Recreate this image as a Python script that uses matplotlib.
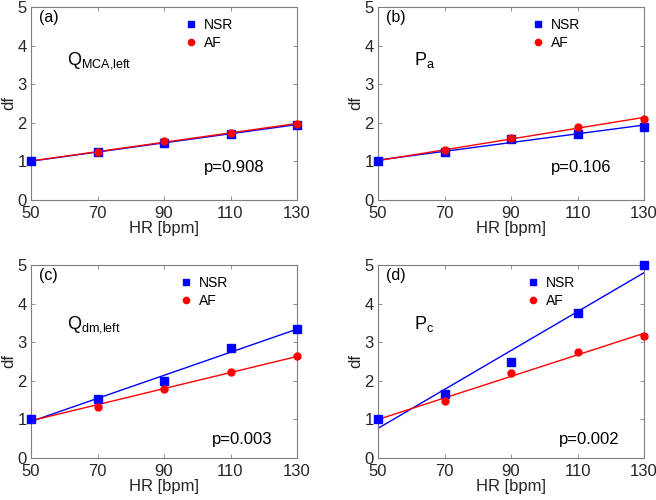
import numpy as np
import matplotlib
matplotlib.use("Agg")
import matplotlib.pyplot as plt

plt.rcParams['font.family'] = ['Liberation Sans', 'DejaVu Sans']

hr = [50, 70, 90, 110, 130]
panel_tags = ['(a)', '(b)', '(c)', '(d)']
panel_names = [r'Q$_{\mathregular{MCA{,}left}}$', r'P$_{\mathregular{a}}$',
               r'Q$_{\mathregular{dm{,}left}}$', r'P$_{\mathregular{c}}$']
p_values = ['p=0.908', 'p=0.106', 'p=0.003', 'p=0.002']

nsr_a = [1.00, 1.25, 1.48, 1.72, 1.95]
af_a = [1.00, 1.25, 1.52, 1.74, 1.97]
nsr_b = [1.00, 1.25, 1.57, 1.72, 1.90]
af_b = [1.00, 1.30, 1.60, 1.90, 2.10]
nsr_c = [1.00, 1.53, 2.00, 2.85, 3.33]
af_c = [1.00, 1.33, 1.80, 2.23, 2.63]
nsr_d = [1.00, 1.67, 2.50, 3.75, 5.00]
af_d = [1.00, 1.47, 2.20, 2.75, 3.15]

nsr_all = [nsr_a, nsr_b, nsr_c, nsr_d]
af_all = [af_a, af_b, af_c, af_d]

fig = plt.figure(figsize=(6.56, 5.0), dpi=100)

W, H = 656, 500
boxes = [(31, 7, 297, 200), (378, 7, 644, 200),
         (31, 265, 297, 458), (378, 265, 644, 458)]
name_pos = [(0.135, 0.70), (0.135, 0.70), (0.135, 0.67), (0.135, 0.67)]
p_pos = [(0.65, 0.17), (0.65, 0.17), (0.68, 0.095), (0.68, 0.095)]
leg_pos = [(0.53, 1.0), (0.53, 1.0), (0.51, 1.0), (0.51, 1.0)]

gray = '#262626'
spine_c = '#7f7f7f'

for i in range(4):
    x0, y0, x1, y1 = boxes[i]
    ax = fig.add_axes([x0 / W, 1 - y1 / H, (x1 - x0) / W, (y1 - y0) / H])
    x = np.array(hr, dtype=float)
    yn = np.array(nsr_all[i])
    ya = np.array(af_all[i])
    cn = np.polyfit(x, yn, 1)
    ca = np.polyfit(x, ya, 1)
    xl = np.array([hr[0], hr[-1]], dtype=float)
    ax.plot(xl, np.polyval(cn, xl), color='#0000ff', lw=1.0, zorder=2)
    ax.plot(xl, np.polyval(ca, xl), color='#ff0000', lw=1.0, zorder=2)
    ax.plot(x, yn, 's', color='#0000ff', ms=5.5, ls='none', label='NSR',
            zorder=3, clip_on=False)
    ax.plot(x[1:], ya[1:], 'o', color='#ff0000', ms=5, ls='none', label='AF',
            zorder=4, clip_on=False)
    ax.set_xlim(50, 130)
    ax.set_ylim(0, 5)
    ax.set_xticks(hr)
    ax.set_yticks([0, 1, 2, 3, 4, 5])
    ax.tick_params(direction='in', top=True, right=True, length=3,
                   width=0.6, colors=spine_c, labelcolor=gray, labelsize=12,
                   pad=4)
    ax.tick_params(axis='y', pad=3)
    for s in ax.spines.values():
        s.set_color(spine_c)
        s.set_linewidth(0.8)
    ax.set_xlabel('HR [bpm]', fontsize=12, color=gray, labelpad=0)
    ax.set_ylabel('df', fontsize=12, color=gray, labelpad=1)
    ax.text(0.03, 0.985, panel_tags[i], transform=ax.transAxes, fontsize=11.5,
            va='top', ha='left', color='black')
    ax.text(name_pos[i][0], name_pos[i][1], panel_names[i],
            transform=ax.transAxes, fontsize=13, va='baseline', ha='left')
    ax.text(p_pos[i][0], p_pos[i][1], p_values[i], transform=ax.transAxes,
            fontsize=12, va='center', ha='left')
    ax.legend(loc='upper left', bbox_to_anchor=leg_pos[i], frameon=False,
              fontsize=10, handletextpad=0.3, handlelength=1.2,
              labelspacing=0.3, borderaxespad=0.4, markerscale=0.9)

fig.savefig('out.png', dpi=100)
